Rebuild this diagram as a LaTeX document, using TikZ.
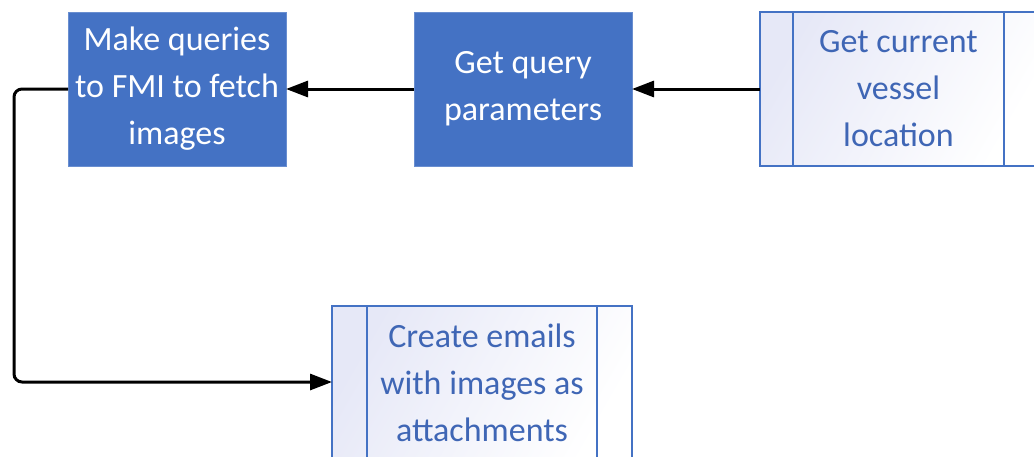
\documentclass[tikz,border=0pt]{standalone}
\usepackage{fontspec}
\setmainfont{Carlito}
\usetikzlibrary{arrows.meta}
\definecolor{boxblue}{HTML}{4472C4}
\definecolor{txtblue}{HTML}{3F66B5}
\definecolor{lav}{RGB}{230,232,247}
\begin{document}
\begin{tikzpicture}[x=1pt,y=-1pt,
  every node/.style={inner sep=0pt,outer sep=0pt,align=center,font=\fontsize{34}{47}\selectfont},
  filledbox/.style={rectangle,fill=boxblue,draw=boxblue!80!white,line width=0.8pt,text=white,minimum width=218pt,minimum height=154pt},
  predef/.style={rectangle,draw=boxblue,line width=2.6pt,left color=lav,right color=white,shading angle=60,text=txtblue,minimum height=154pt},
  inner/.style={draw=boxblue,line width=2.6pt},
  conn/.style={draw=black,line width=3pt,-{Triangle[length=22pt,width=16pt]},rounded corners=8pt}]
\useasboundingbox (0,0) rectangle (1034,456);
\clip (0,0) rectangle (1034,456);
\fill[white] (0,0) rectangle (1034,456);
\node[filledbox] (b1) at (177,89) {Make queries\\to FMI to fetch\\images};
\node[filledbox] (b2) at (523,89) {Get query\\parameters};
\node[predef,minimum width=277pt] (b3) at (898.5,89) {};
\node[text=txtblue] (t3) at (898.5,89) {Get current\\vessel\\location};
\draw[inner] ([xshift=33pt]b3.north west) -- ([xshift=33pt]b3.south west);
\draw[inner] ([xshift=-33pt]b3.north east) -- ([xshift=-33pt]b3.south east);
\node[predef,minimum width=300pt] (b4) at (482,383) {};
\node[text=txtblue] (t4) at (482,383) {Create emails\\with images as\\attachments};
\draw[inner] ([xshift=35pt]b4.north west) -- ([xshift=35pt]b4.south west);
\draw[inner] ([xshift=-35pt]b4.north east) -- ([xshift=-35pt]b4.south east);
\coordinate (c1) at (14,89);
\coordinate (c2) at (14,382);
\draw[conn] (b3.west) -- (b2.east);
\draw[conn] (b2.west) -- (b1.east);
\draw[conn] (b1.west) -- (c1) -- (c2) -- (b4.west |- c2);
\end{tikzpicture}
\end{document}
